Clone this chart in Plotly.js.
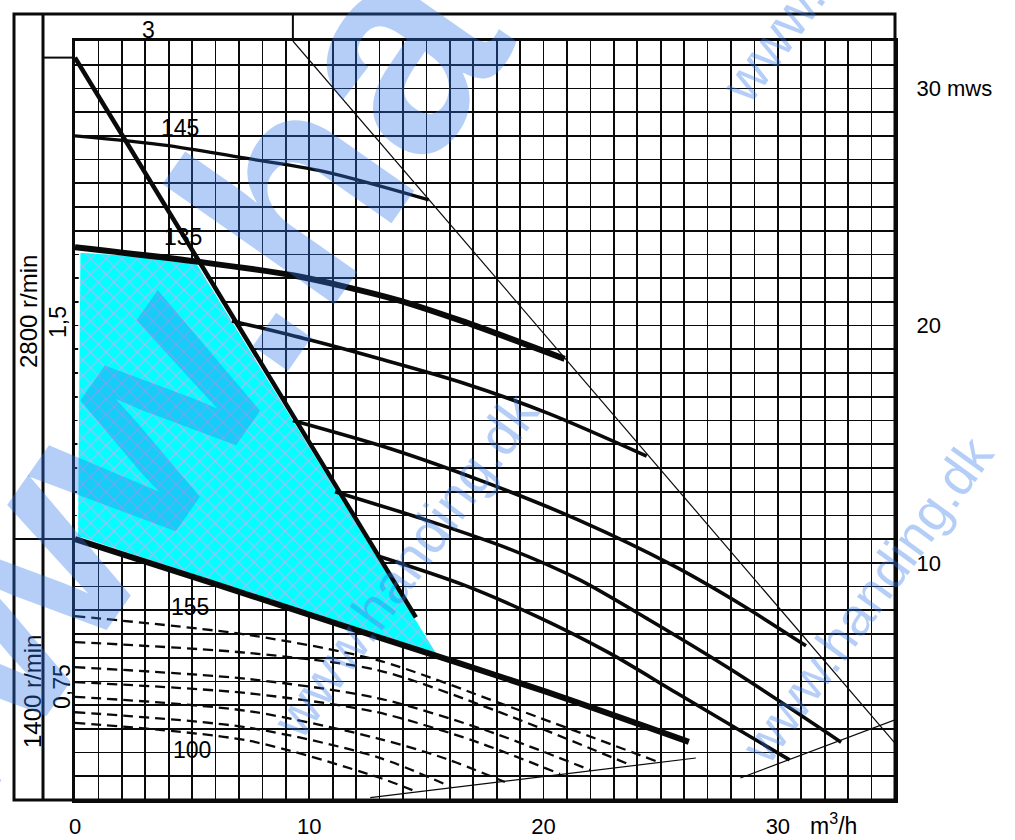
<!DOCTYPE html>
<html><head><meta charset="utf-8">
<script src="https://cdn.plot.ly/plotly-3.0.1.min.js"></script>
<style>html,body{margin:0;padding:0;background:#fff;} #chart{width:1015px;height:840px;}</style>
</head><body><div id="chart"></div>
<script>
// ---- axis ticks ----
const xTickVals = [0, 10, 20, 30];
const xTickText = ['0', '10', '20', '30'];
const yTickVals = [10, 20, 30];
const yTickText = ['10', '20', '30 mws'];
const xMax = 35, yMax = 32;

// ---- operating area (cyan) ----
const areaX = [0.2, 5.1, 15.5, 0.1, 0.2];
const areaY = [23.1, 22.8, 6.1, 11.1, 23.1];

// ---- 2800 r/min curves ----
const c145X = [0, 3.9, 7.0, 10.6, 15.1];
const c145Y = [28.0, 27.6, 27.1, 26.5, 25.3];
const c135X = [0, 5.2, 9.4, 13.7, 16.5, 20.9];
const c135Y = [23.3, 22.7, 22.1, 21.1, 20.2, 18.6];
const cAX = [6.7, 10, 13, 16.5, 20.2, 24.4];
const cAY = [20.2, 19.4, 18.6, 17.6, 16.3, 14.5];
const cBX = [9.3, 13.5, 17.5, 21.5, 25.5, 28.5, 31.2];
const cBY = [16.0, 14.8, 13.4, 11.8, 9.9, 8.2, 6.5];
const cCX = [11.1, 15, 18.5, 21.5, 24.5, 28, 32.7];
const cCY = [13.0, 11.8, 10.6, 9.3, 7.6, 5.5, 2.44];
const cDX = [12.9, 16.5, 19.8, 22.8, 25.7, 30.5];
const cDY = [10.3, 9.1, 7.7, 6.2, 4.5, 1.69];
const c155X = [0, 6, 13, 20, 26.2];
const c155Y = [11.0, 9.1, 6.85, 4.6, 2.45];
const limitX = [0, 14.55];
const limitY = [31.3, 7.7];
const diagX = [9.3, 35];
const diagY = [32, 2.4];
const end2800X = [28.4, 35];
const end2800Y = [0.93, 3.38];

// ---- 1400 r/min curves (dashed) ----
const d1X = [0, 7.4, 12.9, 18.5, 24.9];  const d1Y = [7.75, 6.96, 5.9, 3.95, 1.6];
const d2X = [0, 7.4, 12.9, 18.0, 23.7];  const d2Y = [6.66, 6.2, 5.48, 3.75, 1.48];
const d3X = [0, 7.4, 12.9, 17.5, 22.0];  const d3Y = [5.6, 5.1, 4.3, 2.95, 1.26];
const d4X = [0, 7.4, 12.9, 17.0, 20.7];  const d4Y = [4.97, 4.5, 3.7, 2.5, 1.1];
const d5X = [0, 7.4, 12.9, 15.8, 18.35]; const d5Y = [4.35, 3.75, 2.6, 1.75, 0.76];
const d6X = [0, 7.4, 12.9, 16.05];       const d6Y = [3.7, 3.05, 1.81, 0.55];
const d7X = [0, 7.4, 12.9, 14.6];        const d7Y = [3.25, 2.5, 0.97, 0.34];
const end1400X = [12.6, 26.5];
const end1400Y = [0.1, 1.77];

// ---- curve labels ----
const curveLabels = ['145', '135', '155', '100'];
const curveLabelX = [4.48, 4.6, 4.9, 5.0];
const curveLabelY = [28.33, 23.74, 8.14, 2.11];

const BLK = '#0a0a0a';
const traces = [];
traces.push({x: areaX, y: areaY, mode: 'lines', fill: 'toself', fillcolor: '#00FFFF',
  fillpattern: {shape: 'x', bgcolor: '#00FFFF', fgcolor: '#b4b6ee', size: 11, solidity: 0.2},
  line: {color: 'rgba(255,255,255,0.9)', width: 1.5}, hoverinfo: 'skip'});

const dashed = [[d1X,d1Y],[d2X,d2Y],[d3X,d3Y],[d4X,d4Y],[d5X,d5Y],[d6X,d6Y],[d7X,d7Y]];
dashed.forEach(d => traces.push({x: d[0], y: d[1], mode: 'lines',
  line: {color: BLK, width: 2.3, dash: '10px,6px', shape: 'spline', smoothing: 0.8}}));

function solid(x, y, w) {
  traces.push({x: x, y: y, mode: 'lines', line: {color: BLK, width: w, shape: 'spline', smoothing: 0.8}});
}
solid(diagX, diagY, 1.2);
solid(end1400X, end1400Y, 1.2);
solid(end2800X, end2800Y, 1.2);
solid(c145X, c145Y, 3.3);
solid(cAX, cAY, 3.6);
solid(cBX, cBY, 3.6);
solid(cCX, cCY, 3.6);
solid(cDX, cDY, 3.6);
solid(limitX, limitY, 4.5);
solid(c135X, c135Y, 6);
solid(c155X, c155Y, 6);

const lblFont = {family: 'Liberation Sans, Arial, sans-serif', size: 23, color: '#000'};
const annotations = [];
curveLabels.forEach((t, i) => annotations.push({x: curveLabelX[i], y: curveLabelY[i], xref: 'x', yref: 'y',
  text: t, showarrow: false, font: lblFont, xanchor: 'center', yanchor: 'middle'}));

function pxX(px) { return (px - 75) / 820; }
function pxY(py) { return (800 - py) / 759; }
const plain = (text, px, py, extra) => Object.assign({text: text, x: pxX(px), y: pxY(py), xref: 'paper', yref: 'paper',
  showarrow: false, font: lblFont, xanchor: 'center', yanchor: 'middle'}, extra || {});
annotations.push(plain('3', 148, 30));
annotations.push(plain('2800 r/min', 28, 312, {textangle: -90, font: Object.assign({}, lblFont, {size: 24})}));
annotations.push(plain('1,5', 58, 322, {textangle: -90}));
annotations.push(plain('1400 r/min', 32, 692, {textangle: -90, font: Object.assign({}, lblFont, {size: 24})}));
annotations.push(plain('0,75', 62, 687, {textangle: -90}));
annotations.push(plain('m<sup>3</sup>/h', 808, 824, {xanchor: 'left'}));

// watermarks
const wm = 'rgba(50,120,235,0.36)';
annotations.push(plain('www.ha', 122, 432, {textangle: -55,
  font: {family: 'Liberation Sans, Arial, sans-serif', size: 290, color: wm, weight: 600}}));
const wmFont = {family: 'Liberation Sans, Arial, sans-serif', size: 56, color: wm};
annotations.push(plain('www.handing.dk', 405, 565, {textangle: -54, font: wmFont}));
annotations.push(plain('www.handing.dk', 866, 600, {textangle: -54, font: Object.assign({}, wmFont, {size: 53})}));
annotations.push(plain('www.handing.dk', 854, -70, {textangle: -54, font: wmFont}));

const outerL = pxX(14), innerL = pxX(43), topY = pxY(14);
const lw = {color: BLK, width: 3};
const shapes = [
  {type: 'rect', xref: 'paper', yref: 'paper', x0: outerL, x1: 1, y0: 0, y1: topY, line: lw},
  {type: 'line', xref: 'paper', yref: 'paper', x0: innerL, x1: innerL, y0: 0, y1: topY, line: lw},
  {type: 'line', xref: 'paper', yref: 'paper', x0: innerL, x1: 0, y0: limitY[0] / yMax, y1: limitY[0] / yMax, line: {color: BLK, width: 2}},
  {type: 'line', xref: 'paper', yref: 'paper', x0: outerL, x1: 0, y0: c155Y[0] / yMax, y1: c155Y[0] / yMax, line: {color: BLK, width: 2}},
  {type: 'line', xref: 'paper', yref: 'paper', x0: diagX[0] / xMax, x1: diagX[0] / xMax, y0: 1, y1: topY, line: {color: BLK, width: 2}}
];

const gridStyle = {showgrid: true, gridcolor: BLK, gridwidth: 1.7};
const layout = {
  width: 1015, height: 840,
  margin: {l: 75, r: 120, t: 41, b: 40, pad: 0},
  paper_bgcolor: '#fff', plot_bgcolor: '#fff',
  showlegend: false,
  font: {family: 'Liberation Sans, Arial, sans-serif', color: '#000'},
  xaxis: Object.assign({range: [0, xMax], tickmode: 'array', tickvals: xTickVals, ticktext: xTickText,
    minor: Object.assign({tickmode: 'linear', tick0: 0, dtick: 1, ticks: ''}, gridStyle),
    showline: true, linecolor: BLK, linewidth: 3, mirror: true, zeroline: false, ticks: '',
    tickfont: {size: 22, color: '#000'}, ticklabelstandoff: 5, fixedrange: true}, gridStyle),
  yaxis: Object.assign({range: [0, yMax], side: 'right', tickmode: 'array', tickvals: yTickVals, ticktext: yTickText,
    minor: Object.assign({tickmode: 'linear', tick0: 0, dtick: 1, ticks: ''}, gridStyle),
    showline: true, linecolor: BLK, linewidth: 3, mirror: true, zeroline: false, ticks: '',
    tickfont: {size: 22, color: '#000'}, ticklabelstandoff: 14, fixedrange: true}, gridStyle),
  annotations: annotations,
  shapes: shapes
};
Plotly.newPlot('chart', traces, layout, {displayModeBar: false, staticPlot: true});
</script></body></html>
